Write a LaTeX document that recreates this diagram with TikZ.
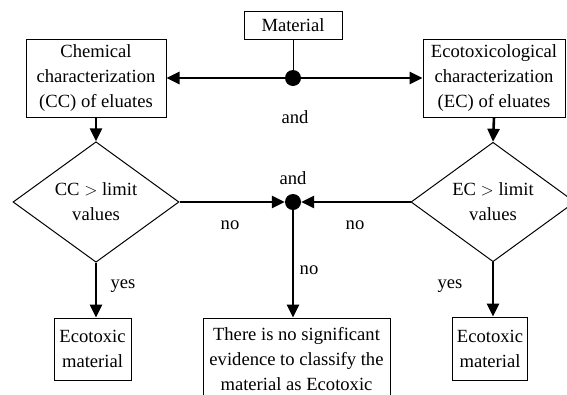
\documentclass[tikz,border=0pt]{standalone}
\usepackage{fontspec}
\setmainfont{Liberation Serif}
\usetikzlibrary{arrows.meta,shapes.geometric}
\begin{document}
\begin{tikzpicture}[x=1pt,y=-1pt,
  every node/.style={font=\fontsize{18.6}{25}\selectfont},
  box/.style={draw,line width=1pt,inner sep=0pt,align=center},
  dia/.style={draw,line width=1pt,shape=diamond,inner sep=0pt,align=center},
  dot/.style={circle,fill=black,inner sep=0pt,minimum size=16pt},
  arr/.style={line width=2.6pt,-{Triangle[length=13pt,width=12pt]}},
  lbl/.style={inner sep=0pt}]
\useasboundingbox (0,0) rectangle (567,394);
\clip (0,0) rectangle (567,394);
\node[box,minimum width=98pt,minimum height=28pt] (mat) at (293,25) {Material};
\node[box,minimum width=140pt,minimum height=78pt] (cc) at (96,78) {Chemical\\characterization\\(CC) of eluates};
\node[box,minimum width=142pt,minimum height=78pt] (ec) at (494,78) {Ecotoxicological\\characterization\\(EC) of eluates};
\node[dot] (d1) at (293,78) {};
\node[dot] (d2) at (293,202) {};
\node[dia,minimum width=166pt,minimum height=108pt] (ldia) at (96,202) {CC $>$ limit\\values};
\node[dia,minimum width=164pt,minimum height=108pt] (rdia) at (493,202) {EC $>$ limit\\values};
\node[box,minimum width=77pt,minimum height=62pt] (lbox) at (92.5,349) {Ecotoxic\\material};
\node[box,minimum width=75pt,minimum height=63pt] (rbox) at (490,348.5) {Ecotoxic\\material};
\node[box,minimum width=187pt,minimum height=82pt] (nbox) at (296.5,359) {There is no significant\\evidence to classify the\\material as Ecotoxic};
\draw[line width=1pt] (mat.south) -- (d1);
\draw[arr] (d1) -- (cc.east);
\draw[arr] (d1) -- (ec.west);
\draw[arr] (cc.south) -- (ldia.north);
\draw[arr] (ec.south) -- (rdia.north);
\draw[arr] (ldia.east) -- (d2.west);
\draw[arr] (rdia.west) -- (d2.east);
\draw[arr] (d2) -- (d2 |- nbox.north);
\draw[arr] (ldia.south) -- (ldia.south |- lbox.north);
\draw[arr] (rdia.south) -- (rdia.south |- rbox.north);
\node[lbl] (and1) at (295,117) {and};
\node[lbl] (and2) at (293,178) {and};
\node[lbl] (no1) at (230,225) {no};
\node[lbl] (no2) at (355,225) {no};
\node[lbl] (no3) at (309,270) {no};
\node[lbl] (yes1) at (123,286) {yes};
\node[lbl] (yes2) at (450,286) {yes};
\end{tikzpicture}
\end{document}
